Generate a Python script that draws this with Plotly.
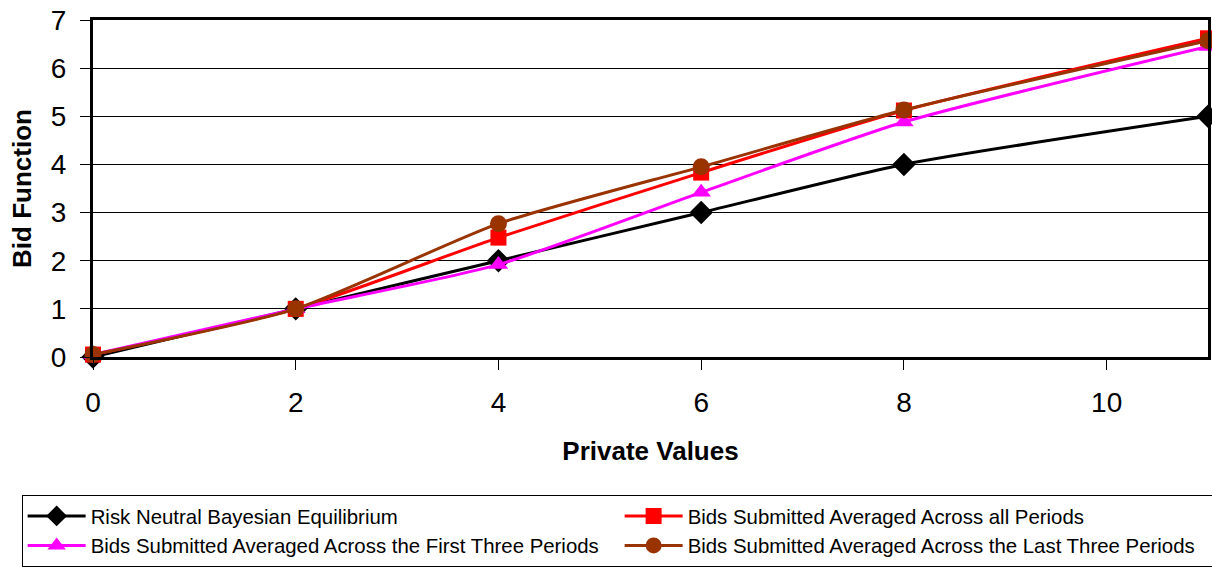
import plotly.graph_objects as go

# Private values at which bids were observed
private_values = [0, 2, 4, 6, 8, 11]

# Bid functions
rnbe = [0, 1, 2, 3, 4, 5]
all_periods = [0.05, 1.0, 2.48, 3.83, 5.12, 6.62]
first_three = [0.05, 1.0, 1.92, 3.42, 4.88, 6.45]
last_three = [0.05, 1.0, 2.77, 3.95, 5.13, 6.57]

series = [
    ("Risk Neutral Bayesian Equilibrium", rnbe, "#000000", "diamond", 18),
    ("Bids Submitted Averaged Across all Periods", all_periods, "#FF0000", "square", 16),
    ("Bids Submitted Averaged Across the First Three Periods", first_three, "#FF00FF", "triangle-up", 17),
    ("Bids Submitted Averaged Across the Last Three Periods", last_three, "#993300", "circle", 17),
]

FONT = "Liberation Sans, Arial, sans-serif"

fig = go.Figure()
for name, vals, color, symbol, size in series:
    fig.add_trace(go.Scatter(
        x=private_values, y=vals, name=name, mode="lines+markers",
        line=dict(color=color, width=3, shape="spline", smoothing=0.6),
        marker=dict(symbol=symbol, size=size, color=color),
        cliponaxis=False,
    ))

fig.update_layout(
    width=1212, height=567,
    margin=dict(l=93, r=4, t=20, b=210, autoexpand=False),
    paper_bgcolor="white", plot_bgcolor="white",
    font=dict(family=FONT, color="black"),
    showlegend=True,
    legend=dict(
        orientation="h", x=-0.064, y=-0.41, xanchor="left", yanchor="top",
        bordercolor="black", borderwidth=1,
        font=dict(size=20.4, family=FONT, color="black"),
        entrywidth=524, entrywidthmode="pixels",
        itemwidth=58, tracegroupgap=0,
    ),
    xaxis=dict(
        range=[0, 11], tickvals=[0, 2, 4, 6, 8, 10],
        showgrid=False, zeroline=False,
        showline=True, linecolor="black", linewidth=3, mirror=True,
        ticks="outside", ticklen=10, tickcolor="black",
        ticklabelstandoff=8,
        tickfont=dict(size=28, family=FONT),
        title=dict(text="<b>Private Values</b>", font=dict(size=26, family=FONT), standoff=26),
    ),
    yaxis=dict(
        range=[0, 7], dtick=1,
        showgrid=True, gridcolor="black", gridwidth=1, zeroline=False,
        showline=True, linecolor="black", linewidth=3, mirror=True,
        ticks="outside", ticklen=10, tickcolor="black",
        ticklabelstandoff=8,
        tickfont=dict(size=28, family=FONT),
        title=dict(text="<b>Bid Function</b>", font=dict(size=26, family=FONT), standoff=12),
    ),
)

fig.write_html("out.html")
